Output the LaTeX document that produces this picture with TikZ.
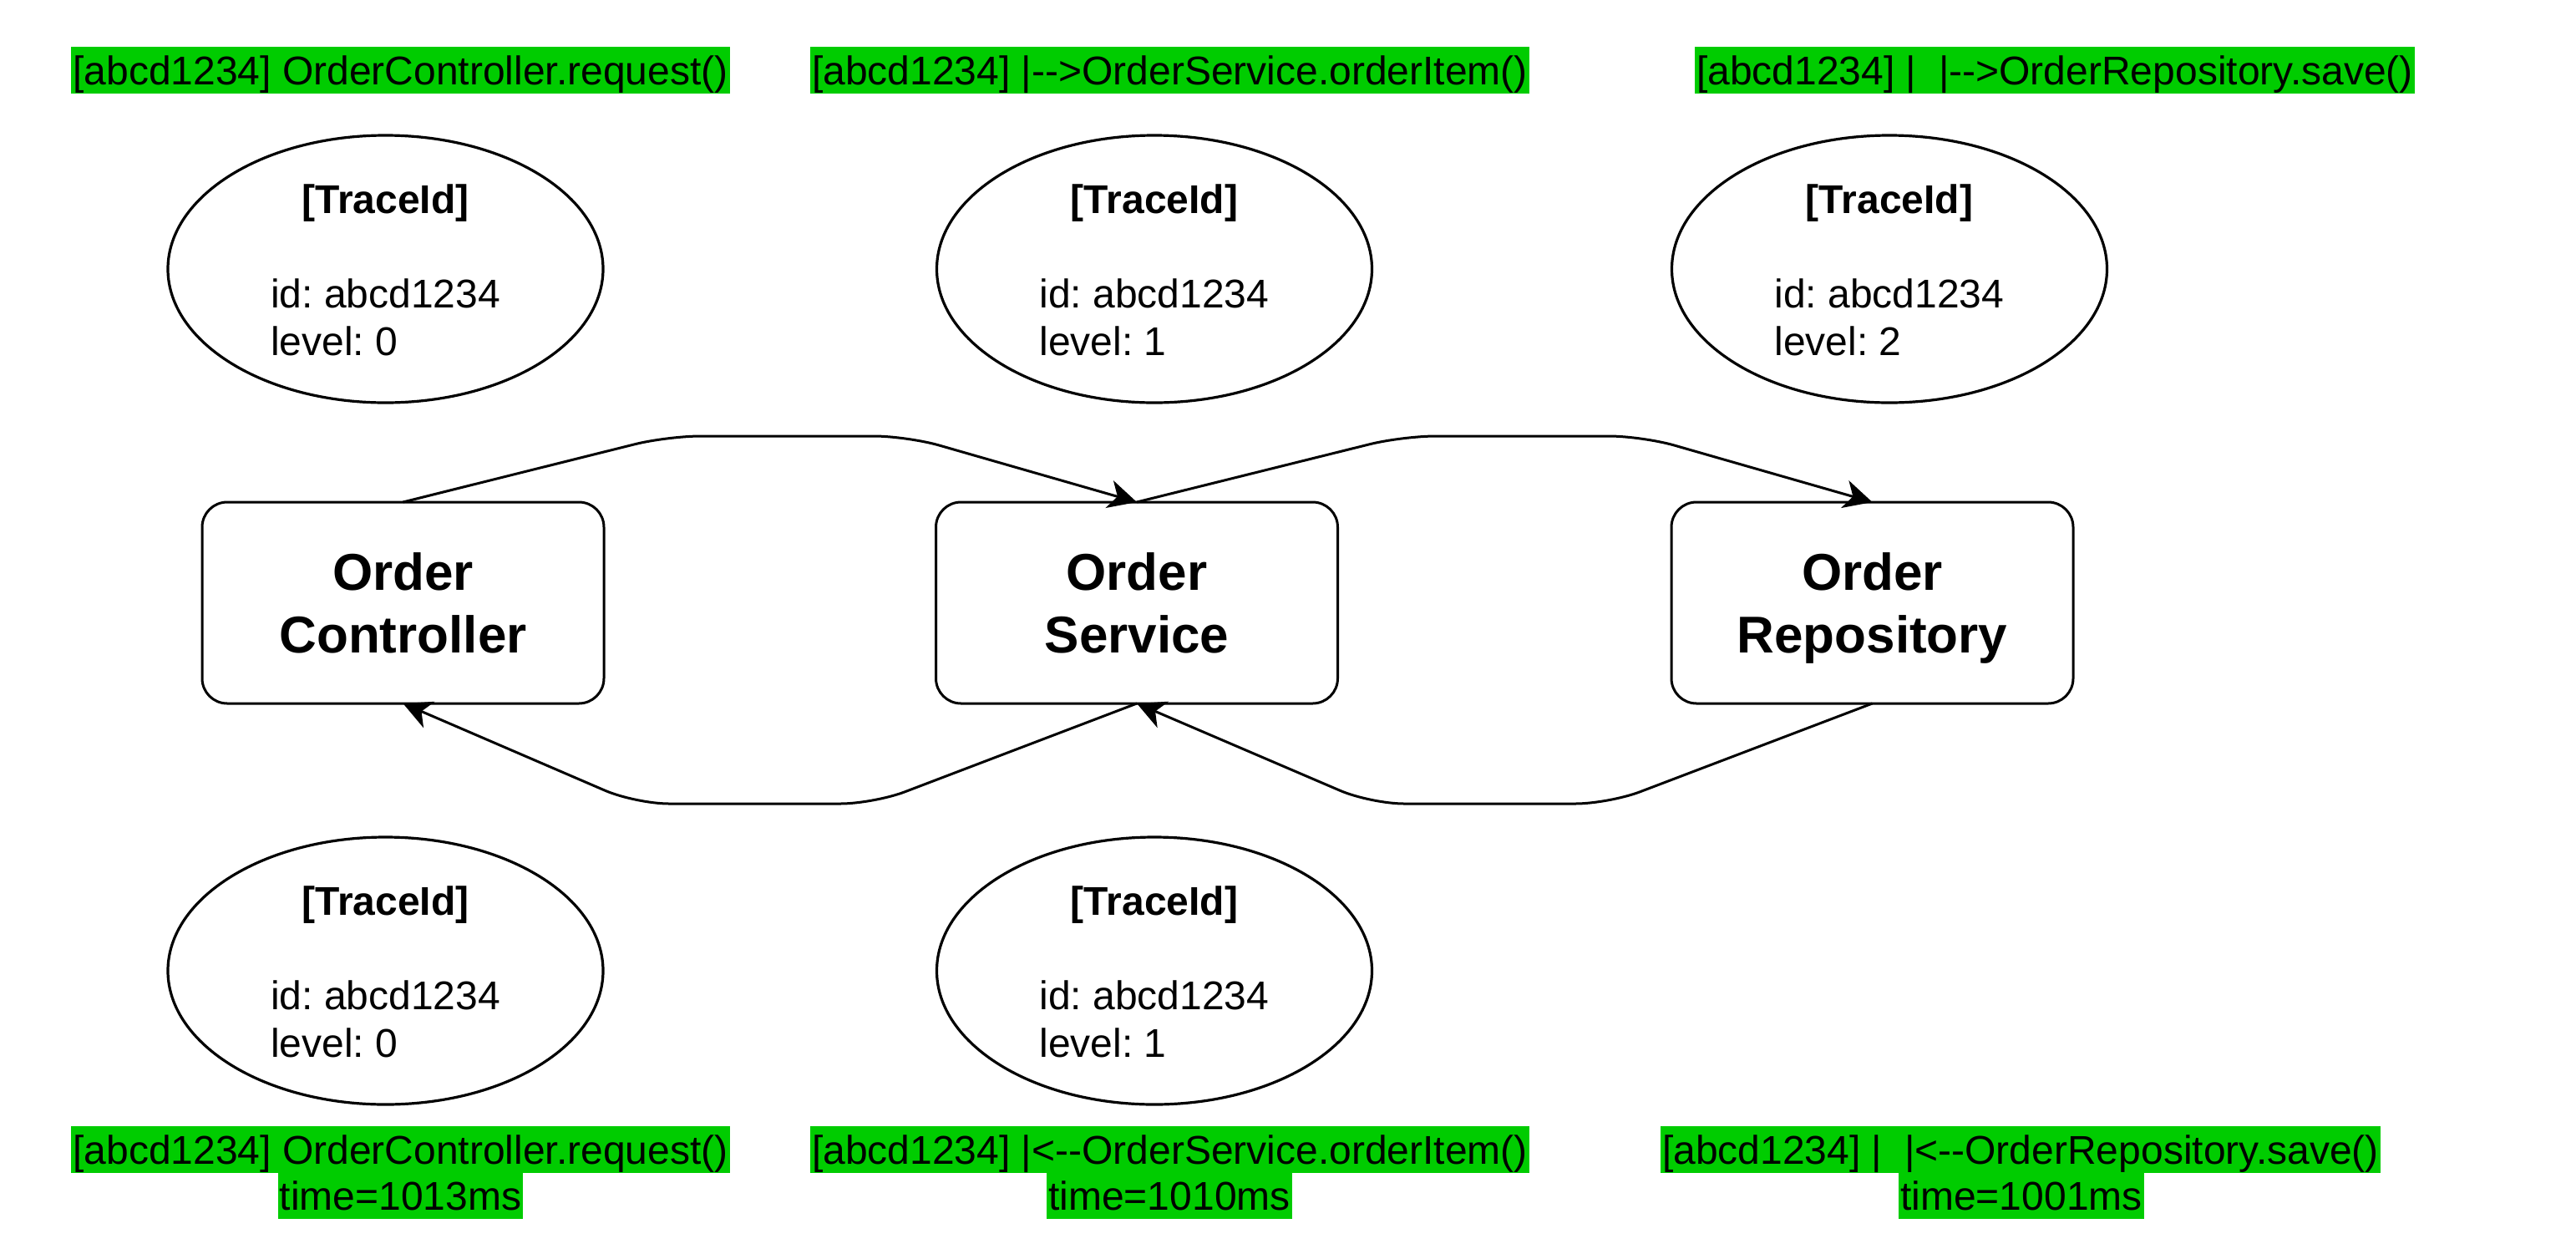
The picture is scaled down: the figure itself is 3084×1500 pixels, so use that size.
\documentclass[tikz,border=0pt]{standalone}
\usepackage{fontspec}
\setmainfont{Liberation Sans}
\usetikzlibrary{arrows.meta,shapes.geometric}
\definecolor{loggreen}{RGB}{0,204,0}
\newcommand{\nodepth}[1]{\raisebox{0pt}[\height][0pt]{#1}}
\frenchspacing
\begin{document}
\begin{tikzpicture}[x=0.5pt,y=-0.5pt,
  every node/.style={font=\fontsize{24pt}{28.8pt}\selectfont},
  comp/.style={draw, line width=1.5pt, rounded corners=15pt, minimum width=240.5pt,
    minimum height=120.5pt, align=center, inner sep=0pt, outer sep=0pt,
    font=\fontsize{31pt}{37.5pt}\selectfont\bfseries},
  trace/.style={draw, ellipse, line width=1.6pt, minimum width=260.5pt,
    minimum height=160pt, inner sep=0pt, outer sep=0pt},
  tracehead/.style={anchor=base, inner sep=0pt, font=\fontsize{24pt}{28.8pt}\selectfont\bfseries},
  traceline/.style={inner sep=0pt},
  logline/.style={fill=loggreen, inner xsep=1pt, inner ysep=0pt, text height=22.5pt,
    text depth=5.5pt, anchor=north},
  flow/.style={line width=1.5pt, rounded corners=20pt,
    -{Stealth[length=17pt,width=17pt,inset=5pt]}},
]
\useasboundingbox (0,0) rectangle (3084,1500);

% top log lines
\node[logline] (lt1) at (479.5,56) {[abcd1234] OrderController.request()};
\node[logline] (lt2) at (1400.5,56) {[abcd1234] |-\mbox{}->OrderService.orderItem()};
\node[logline] (lt3) at (2460,56) {[abcd1234] |\ \ |-\mbox{}->OrderRepository.save()};

% top trace ellipses
\node[trace] (e1) at (461.5,322) {};
\node[trace] (e2) at (1382,322) {};
\node[trace] (e3) at (2262,322) {};

\node[tracehead, yshift=33.5pt] (h1) at (e1.center) {[TraceId]};
\node[traceline, anchor=base, yshift=-23pt] (i1) at (e1.center) {id: abcd1234};
\node[traceline, anchor=base west, yshift=-28.8pt] (v1) at (i1.base west) {level: 0};

\node[tracehead, yshift=33.5pt] (h2) at (e2.center) {[TraceId]};
\node[traceline, anchor=base, yshift=-23pt] (i2) at (e2.center) {id: abcd1234};
\node[traceline, anchor=base west, yshift=-28.8pt] (v2) at (i2.base west) {level: 1};

\node[tracehead, yshift=33.5pt] (h3) at (e3.center) {[TraceId]};
\node[traceline, anchor=base, yshift=-23pt] (i3) at (e3.center) {id: abcd1234};
\node[traceline, anchor=base west, yshift=-28.8pt] (v3) at (i3.base west) {level: 2};

% components
\node[comp] (oc) at (482.5,721.5) {Order\\\nodepth{Controller}};
\node[comp] (os) at (1361,721.5) {Order\\\nodepth{Service}};
\node[comp] (or) at (2241.5,721.5) {Order\\\nodepth{Repository}};

% bottom trace ellipses
\node[trace] (e4) at (461.5,1162) {};
\node[trace] (e5) at (1382,1162) {};

\node[tracehead, yshift=33.5pt] (h4) at (e4.center) {[TraceId]};
\node[traceline, anchor=base, yshift=-23pt] (i4) at (e4.center) {id: abcd1234};
\node[traceline, anchor=base west, yshift=-28.8pt] (v4) at (i4.base west) {level: 0};

\node[tracehead, yshift=33.5pt] (h5) at (e5.center) {[TraceId]};
\node[traceline, anchor=base, yshift=-23pt] (i5) at (e5.center) {id: abcd1234};
\node[traceline, anchor=base west, yshift=-28.8pt] (v5) at (i5.base west) {level: 1};

% bottom log lines
\node[logline] (lb1) at (479.5,1348) {[abcd1234] OrderController.request()};
\node[logline] (lb1t) at (479.5,1403) {time=1013ms};
\node[logline] (lb2) at (1400.5,1348) {[abcd1234] |<-\mbox{}-OrderService.orderItem()};
\node[logline] (lb2t) at (1400,1403) {time=1010ms};
\node[logline] (lb3) at (2419,1348) {[abcd1234] |\ \ |<-\mbox{}-OrderRepository.save()};
\node[logline] (lb3t) at (2420,1403) {time=1001ms};

% connectors
\draw[flow] (oc.north) -- (799,522) -- (1086,522) -- (os.north);
\draw[flow] (os.north) -- (1679,522) -- (1966,522) -- (or.north);
\draw[flow] (or.south) -- (1926,962) -- (1641,962) -- (os.south);
\draw[flow] (os.south) -- (1046,962) -- (761,962) -- (oc.south);
\end{tikzpicture}
\end{document}
